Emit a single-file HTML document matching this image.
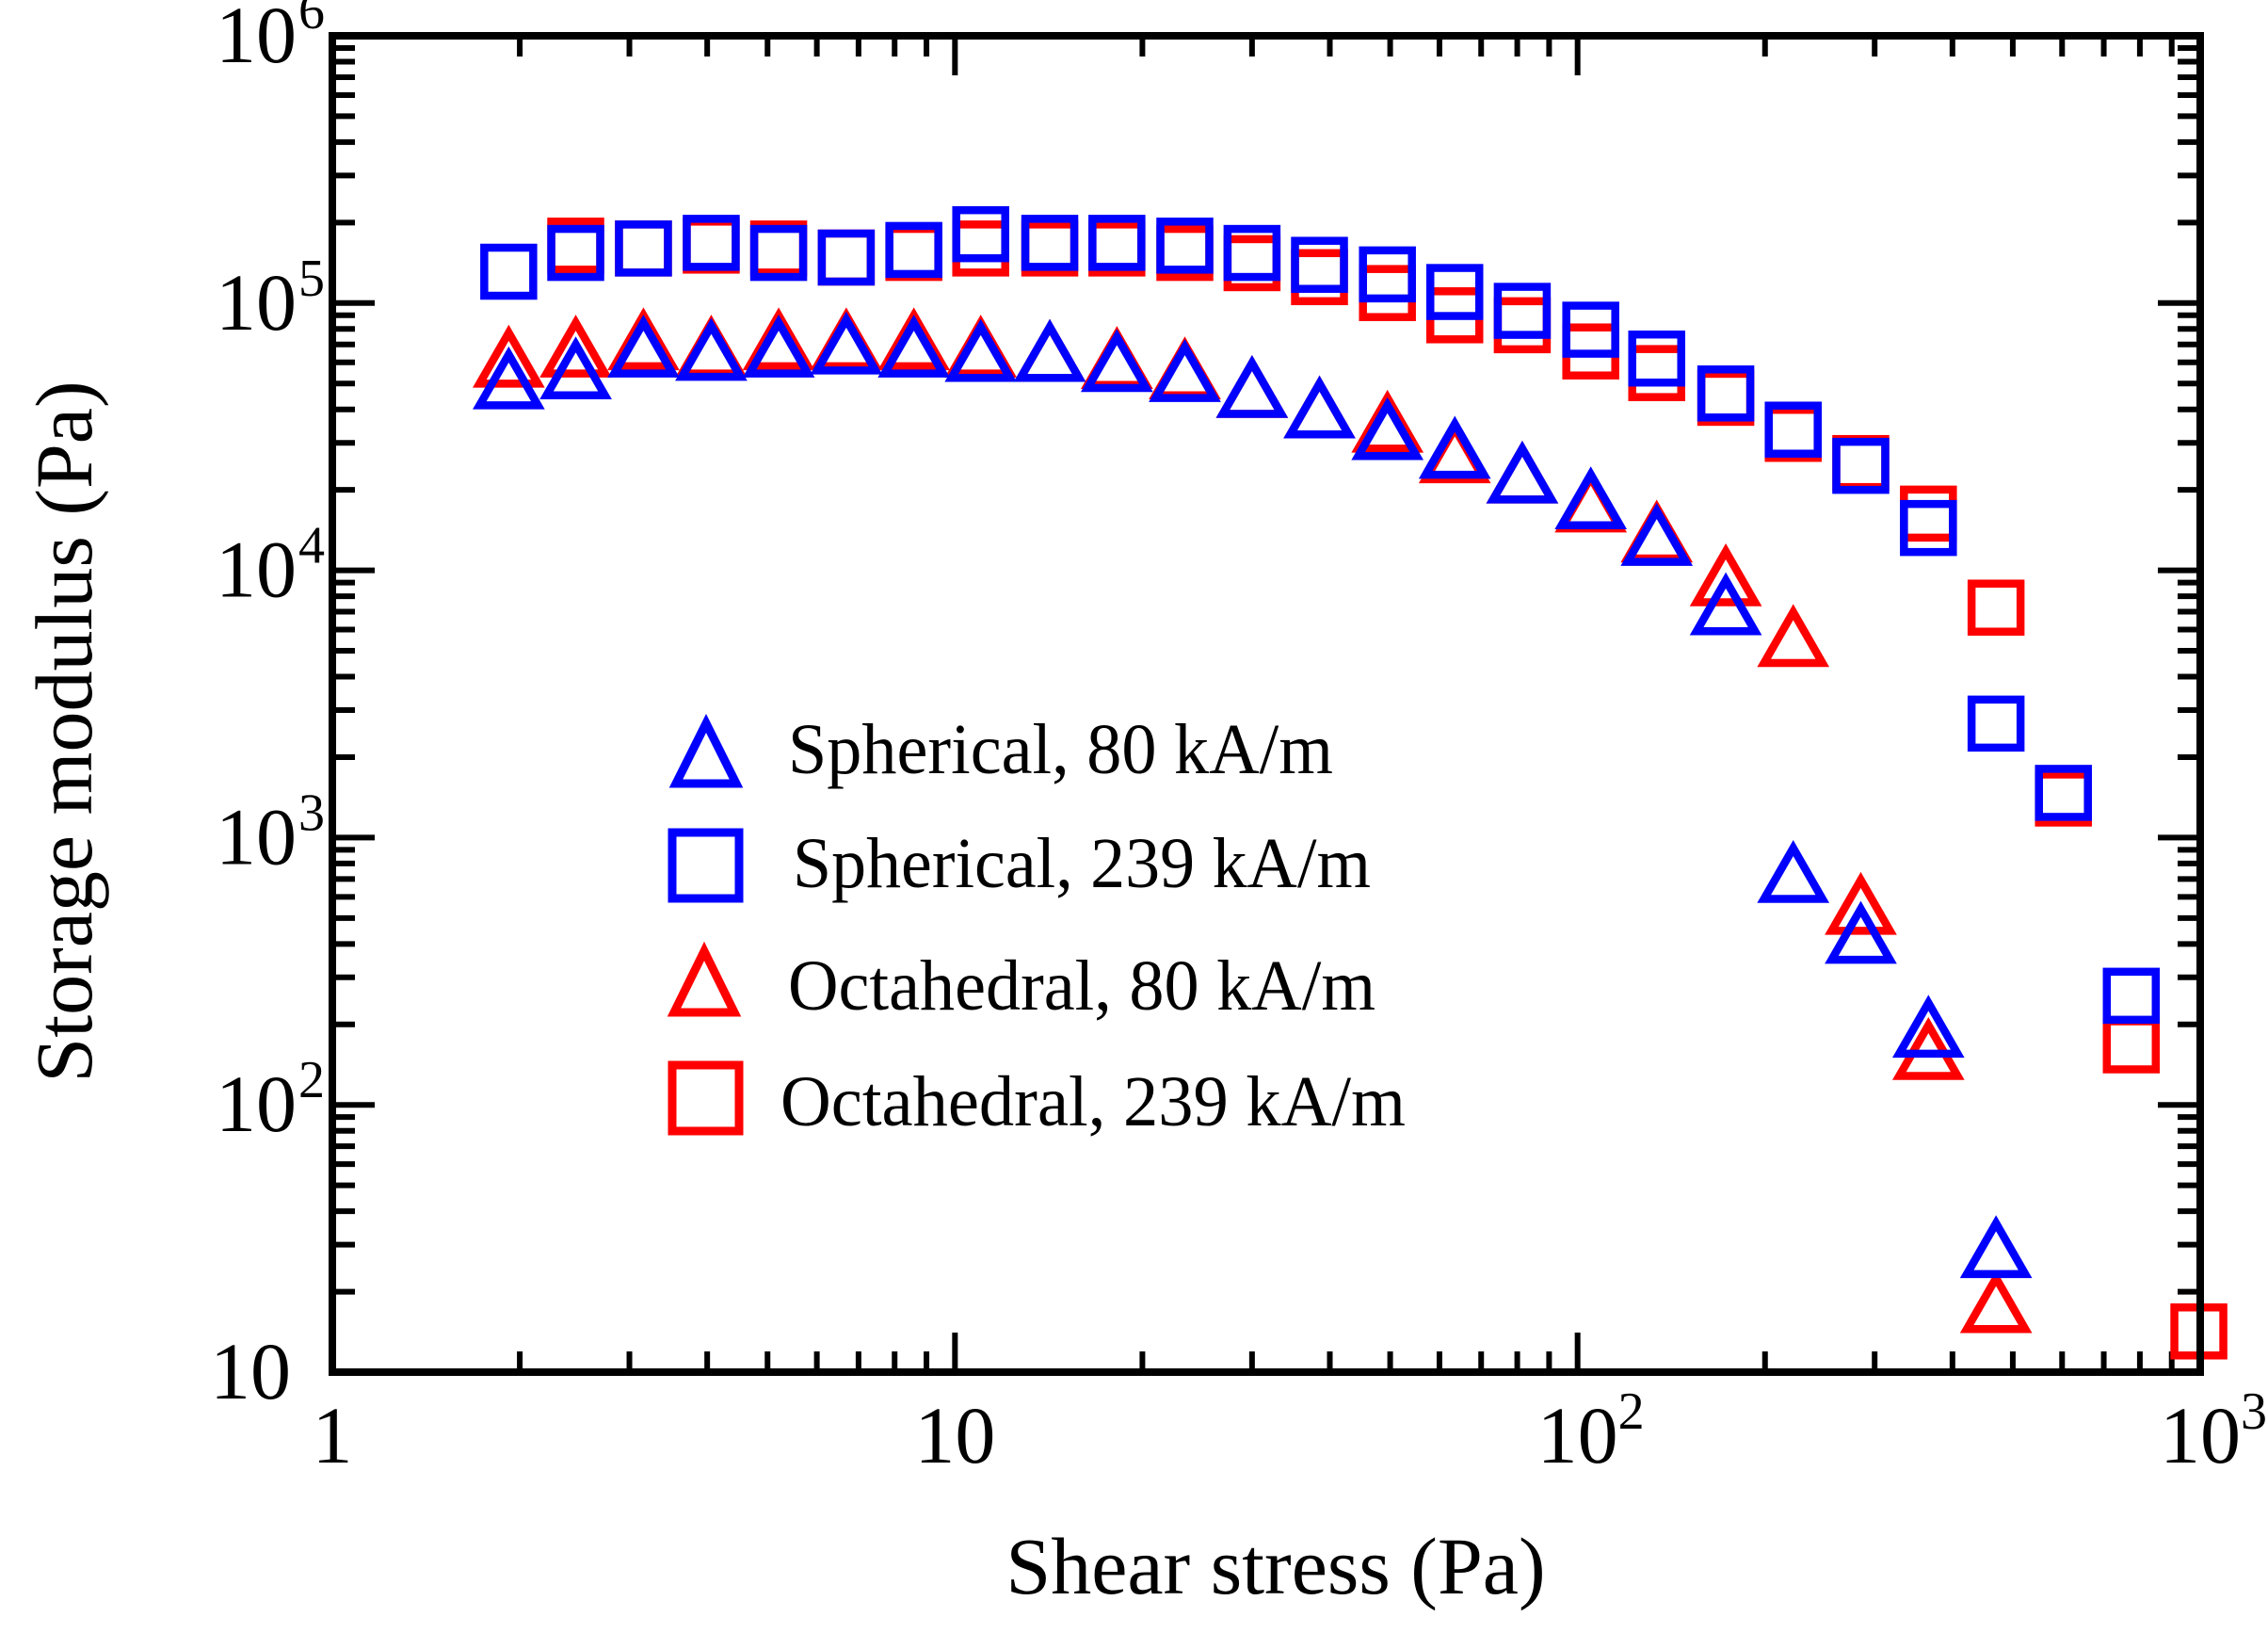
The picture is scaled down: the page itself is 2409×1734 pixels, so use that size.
<!DOCTYPE html>
<html><head><meta charset="utf-8"><style>
html,body{margin:0;padding:0;background:#fff;}
svg{display:block;font-family:"Liberation Serif",serif;}
</style></head><body>
<svg id="chart" width="2409" height="1734" viewBox="0 0 2409 1734" xmlns="http://www.w3.org/2000/svg">
<rect x="0" y="0" width="2409" height="1734" fill="#fff"/>
<g id="ticks"></g>
<g id="marks"></g>
<rect x="353" y="38" width="1984" height="1419" fill="none" stroke="#000" stroke-width="8"/>
<g id="labels" font-size="86"></g>
<text x="1355" y="1692" font-size="86" text-anchor="middle">Shear stress (Pa)</text>
<text transform="translate(97,777) rotate(-90)" font-size="86" text-anchor="middle">Storage modulus (Pa)</text>
<g>
  <polygon points="750,768 718,832 782,832" fill="none" stroke="#0000ff" stroke-width="9"/>
  <text x="837" y="821" font-size="76" textLength="579" lengthAdjust="spacingAndGlyphs">Spherical, 80 kA/m</text>
  <rect x="714" y="884" width="71" height="70" fill="none" stroke="#0000ff" stroke-width="9"/>
  <text x="842" y="942" font-size="76" textLength="614" lengthAdjust="spacingAndGlyphs">Spherical, 239 kA/m</text>
  <polygon points="748,1010 716,1075 780,1075" fill="none" stroke="#ff0000" stroke-width="9"/>
  <text x="837" y="1072" font-size="76" textLength="624" lengthAdjust="spacingAndGlyphs">Octahedral, 80 kA/m</text>
  <rect x="714" y="1131" width="71" height="70" fill="none" stroke="#ff0000" stroke-width="9"/>
  <text x="829" y="1195" font-size="76" textLength="664" lengthAdjust="spacingAndGlyphs">Octahedral, 239 kA/m</text>
</g>
</svg>
<script>
const stress = [1.92,2.46,3.16,4.06,5.21,6.69,8.59,11.0,14.2,18.2,23.4,30.0,38.5,49.5,63.5,81.5,105,134,173,222,285,366,470,603,775,995];
const sph80 = [52000,56700,68400,66500,68400,70200,68400,65900,65900,60400,55400,48300,40500,33600,28600,23100,18500,13500,7430,740,438,195,29.2];
const oct80 = [62700,68400,72800,68400,72800,72800,72800,68400,65900,62000,56700,48300,40500,35800,27500,23100,18000,13900,9530,5650,562,161,18.2];
const sph239 = [131000,154000,160000,168000,154000,148000,158000,181000,168000,168000,164000,154000,139000,128000,110000,93500,79500,62000,45900,33600,24600,14400,2670,1470,256];
const oct239 = [null,164000,160000,164000,160000,148000,154000,160000,160000,160000,154000,141000,125000,109000,90000,82600,65900,54700,44200,32400,25200,16300,7250,1400,167,14.2];
const xTickExps = [0,1,2,3];
const yTickExps = [1,2,3,4,5,6];

const NS = "http://www.w3.org/2000/svg";
const X0=353, X1=2337, Y0=1457, Y1=38;
function xs(v){ return X0 + (Math.log10(v)-0)/3*(X1-X0); }
function ys(v){ return Y0 - (Math.log10(v)-1)/5*(Y0-Y1); }
function mk(tag, attrs, parent){ const e=document.createElementNS(NS,tag); for(const k in attrs) e.setAttribute(k,attrs[k]); parent.appendChild(e); return e; }

const ticks=document.getElementById('ticks');
function tick(x1,y1,x2,y2,name){
  const l=mk('line',{x1:x1,y1:y1,x2:x2,y2:y2,stroke:'#000','stroke-width':6},ticks);
  
  
}
for(let e=0;e<3;e++){ for(let m=1;m<=9;m++){ const v=m*Math.pow(10,e); const x=xs(v); const L=(m===1)?42:22;
  if(m===1 && e===0) continue;
  tick(x,Y0,x,Y0-L,'x-tick'); tick(x,Y1,x,Y1+L,'x-tick-top'); } }
for(let e=1;e<6;e++){ for(let m=1;m<=9;m++){ const v=m*Math.pow(10,e); const y=ys(v); const L=(m===1)?45:24;
  if(m===1 && e===1) continue;
  tick(X0,y,X0+L,y,'y-tick'); tick(X1,y,X1-L,y,'y-tick-right'); } }

const labels=document.getElementById('labels');
xTickExps.forEach(e=>{
  const x=xs(Math.pow(10,e));
  const t=mk('text',{x:x,y:1553,'text-anchor':e<=1?'middle':'start'},labels);
  
  
  if(e===0){ t.textContent='1'; }
  else if(e===1){ t.textContent='10'; }
  else { t.setAttribute('x', x-43); t.textContent='10'; const s=mk('tspan',{'font-size':56,dy:-36},t); s.textContent=String(e); }
});
yTickExps.forEach(e=>{
  const y=ys(Math.pow(10,e));
  const t=mk('text',{x:e===1?309:315,y:y+28,'text-anchor':'end'},labels);
  
  
  t.textContent='10';
  if(e>1){ const s=mk('text',{x:317,y:y-8,'font-size':56,'text-anchor':'start'},labels); s.textContent=String(e);
    
     }
});

const marks=document.getElementById('marks');
function squares(vals,color,name){
  vals.forEach((v,i)=>{ if(v==null) return; const cx=xs(stress[i]), cy=ys(v);
    const r=mk('rect',{x:cx-26,y:cy-25.5,width:52,height:51,fill:'none',stroke:color,'stroke-width':8.5},marks);
    
     });
}
function tris(vals,color,name){
  vals.forEach((v,i)=>{ if(v==null) return; const cx=xs(stress[i]), cy=ys(v);
    const p=mk('polygon',{points:`${cx},${cy-26} ${cx-31},${cy+28} ${cx+31},${cy+28}`,fill:'none',stroke:color,'stroke-width':8.5},marks);
    
     });
}
squares(oct239,'#ff0000','octahedral-239-point');
squares(sph239,'#0000ff','spherical-239-point');
tris(oct80,'#ff0000','octahedral-80-point');
tris(sph80,'#0000ff','spherical-80-point');
</script>
</body></html>
